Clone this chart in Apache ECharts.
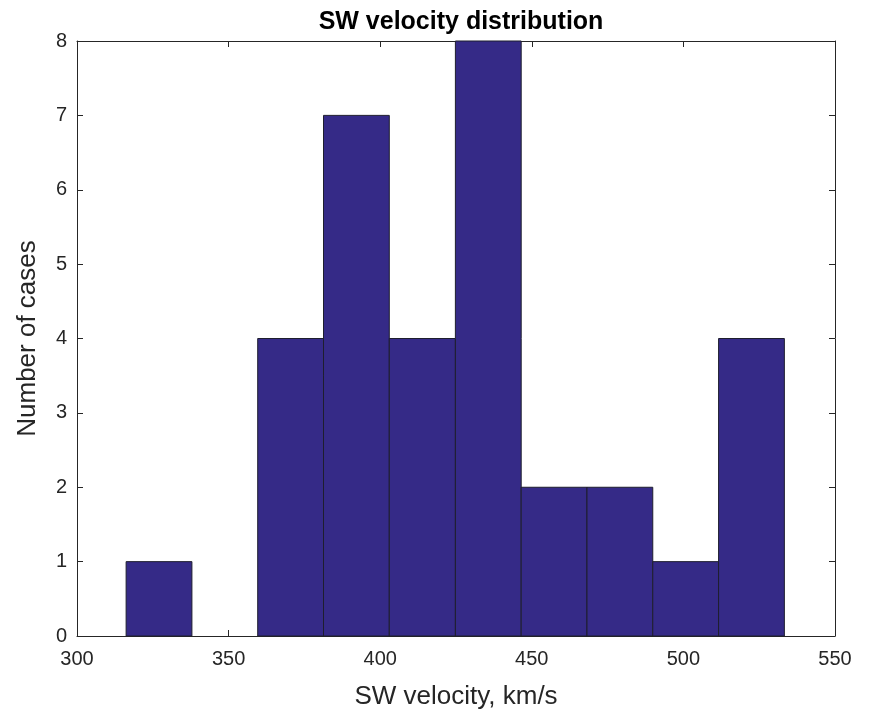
<!DOCTYPE html>
<html>
<head>
<meta charset="utf-8">
<script src="https://cdn.jsdelivr.net/npm/echarts@6/dist/echarts.min.js"></script>
<style>
html, body { margin: 0; padding: 0; background: #fff; }
#chart { width: 871px; height: 715px; }
</style>
</head>
<body>
<div id="chart"></div>
<script>
// histogram bins (km/s) and counts
var binEdges = [316.2, 337.9, 359.6, 381.3, 403.0, 424.8, 446.5, 468.2, 489.9, 511.6, 533.3];
var counts = [1, 0, 4, 7, 4, 8, 2, 2, 1, 4];
var xTicks = [300, 350, 400, 450, 500, 550];
var yTicks = [0, 1, 2, 3, 4, 5, 6, 7, 8];

var histData = [];
for (var i = 0; i < counts.length; i++) {
    histData.push([binEdges[i], binEdges[i + 1], counts[i]]);
}

var font = '"Liberation Sans", Arial, sans-serif';
var axisColor = '#262626';

var myChart = echarts.init(document.getElementById('chart'));
var option = {
    animation: false,
    backgroundColor: '#fff',
    title: {
        text: 'SW velocity distribution',
        left: 456, top: 5, textAlign: 'center',
        textStyle: { fontFamily: font, fontSize: 25, fontWeight: 'bold', color: '#000' }
    },
    grid: { left: 77, right: 36, top: 41, bottom: 77 },
    xAxis: [{
        type: 'value', min: xTicks[0], max: xTicks[xTicks.length - 1], interval: 50,
        name: 'SW velocity, km/s', nameLocation: 'middle', nameGap: 48,
        nameTextStyle: { fontFamily: font, fontSize: 26, color: axisColor },
        axisLine: { show: true, lineStyle: { color: axisColor, width: 1 } },
        axisTick: { show: true, inside: true, length: 6, lineStyle: { color: axisColor } },
        axisLabel: { fontFamily: font, fontSize: 20, color: axisColor, margin: 13 },
        splitLine: { show: false }
    }, {
        type: 'value', position: 'top', min: xTicks[0], max: xTicks[xTicks.length - 1], interval: 50,
        axisLine: { show: true, onZero: false, lineStyle: { color: axisColor, width: 1 } },
        axisTick: { show: true, inside: true, length: 6, lineStyle: { color: axisColor } },
        axisLabel: { show: false },
        splitLine: { show: false }
    }],
    yAxis: [{
        type: 'value', min: 0, max: 8, interval: 1,
        name: 'Number of cases', nameLocation: 'middle', nameGap: 36,
        nameTextStyle: { fontFamily: font, fontSize: 26, color: axisColor },
        axisLine: { show: true, lineStyle: { color: axisColor, width: 1 } },
        axisTick: { show: true, inside: true, length: 6, lineStyle: { color: axisColor } },
        axisLabel: { fontFamily: font, fontSize: 20, color: axisColor, margin: 10 },
        splitLine: { show: false }
    }, {
        type: 'value', position: 'right', min: 0, max: 8, interval: 1,
        axisLine: { show: true, onZero: false, lineStyle: { color: axisColor, width: 1 } },
        axisTick: { show: true, inside: true, length: 6, lineStyle: { color: axisColor } },
        axisLabel: { show: false },
        splitLine: { show: false }
    }],
    series: [{
        type: 'custom',
        xAxisIndex: 0, yAxisIndex: 0,
        data: histData,
        renderItem: function (params, api) {
            if (!api.value(2)) return null;
            var p0 = api.coord([api.value(0), api.value(2)]);
            var p1 = api.coord([api.value(1), 0]);
            return {
                type: 'rect',
                shape: { x: p0[0], y: p0[1], width: p1[0] - p0[0], height: p1[1] - p0[1] },
                style: { fill: '#352a87', stroke: '#1e1e2e', lineWidth: 1 }
            };
        }
    }]
};
myChart.setOption(option);
</script>
</body>
</html>
